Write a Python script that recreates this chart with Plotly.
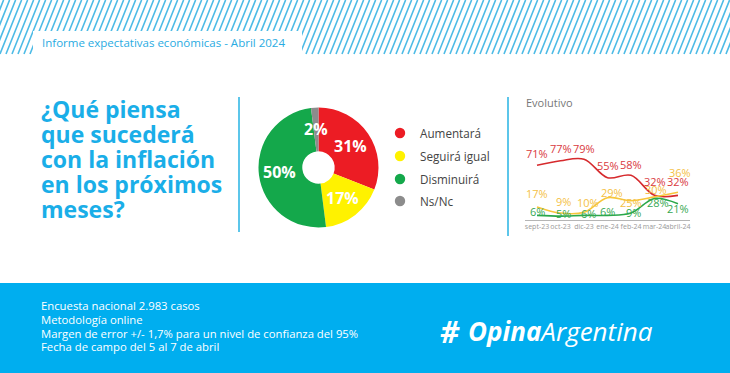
import math
import plotly.graph_objects as go

# ---------------- data ----------------
pie_labels = ["Aumentará", "Seguirá igual", "Disminuirá", "Ns/Nc"]
pie_values = [31, 17, 50, 2]
pie_colors = ["#ec1c24", "#fff200", "#14a84b", "#8c8c8c"]

months = ["sept-23", "oct-23", "dic-23", "ene-24", "feb-24", "mar-24", "abril-24"]
aumentara = [71, 77, 79, 55, 58, 32, 32]
seguira = [17, 9, 10, 29, 25, 30, 36]
disminuira = [6, 5, 6, 6, 9, 28, 21]

question_lines = ["¿Qué piensa", "que sucederá", "con la inflación", "en los próximos", "meses?"]
footer_lines = [
    "Encuesta nacional 2.983 casos",
    "Metodología online",
    "Margen de error +/- 1,7% para un nivel de confianza del 95%",
    "Fecha de campo del 5 al 7 de abril",
]
header_text = "Informe expectativas económicas - Abril 2024"

# ---------------- helpers ----------------
W, H = 730, 373


def fx(p):
    return p / W


def fy(p):
    return 1 - p / H


BLUE = "#1aaee8"
FONT = "Open Sans"

fig = go.Figure()

# ---------------- donut ----------------
cx, cy, R = 318.5, 167.5, 60
fig.add_trace(go.Pie(
    labels=pie_labels, values=pie_values, sort=False, direction="clockwise",
    rotation=0, hole=0.27, marker=dict(colors=pie_colors, line=dict(width=0)),
    textinfo="none", showlegend=False, hoverinfo="label+percent",
    domain=dict(x=[fx(cx - R), fx(cx + R)], y=[fy(cy + R), fy(cy - R)]),
))

annotations = []
total = sum(pie_values)
cum = 0
for v in pie_values:
    mid = (cum + v / 2) / total * 2 * math.pi
    cum += v
    rl = 39
    annotations.append(dict(
        x=fx(cx + rl * math.sin(mid)), y=fy(cy - rl * math.cos(mid)),
        xref="paper", yref="paper", text=f"{v}%", showarrow=False,
        font=dict(family=FONT, size=16, color="white", weight="bold"),
        xanchor="center", yanchor="middle",
    ))

# ---------------- evolution lines ----------------
series = [
    (aumentara, "#d62a2d", "#d93a3e", [12, 12, 11, 12, 11, 14, 14], [0, 0, 0, 0, 0, 0, 0]),
    (seguira, "#f7c63a", "#f4bf45", [13, 12, 10, 5, -2, 7, 20], [0, 3, 4, 4, 0, 1, 2]),
    (disminuira, "#2aa84a", "#36a852", [4, 3, 2, 4, 1, -4, -5], [0, 3, 4, 0, 2, 3, 0]),
]
for vals, lc, tc, ysh, xsh in series:
    fig.add_trace(go.Scatter(
        x=months, y=vals, mode="lines", line=dict(color=lc, width=1.6, shape="spline", smoothing=1.0),
        showlegend=False, xaxis="x", yaxis="y", hoverinfo="x+y",
    ))
    for m, v, s, xs in zip(months, vals, ysh, xsh):
        annotations.append(dict(
            x=m, y=v, xref="x", yref="y", text=f"{v}%", showarrow=False,
            yshift=s, xshift=xs, font=dict(family=FONT, size=11, color=tc),
            xanchor="center", yanchor="middle",
        ))

# ---------------- shapes ----------------
shapes = []
# header hatch
segs = []
hb = 54
for xb in range(-30, W + 10, 6):
    segs.append(f"M{fx(xb):.5f},{fy(hb):.5f} L{fx(xb + 0.4 * hb):.5f},{fy(0):.5f}")
shapes.append(dict(type="path", path=" ".join(segs), xref="paper", yref="paper",
                   line=dict(color="#4dbbe6", width=1.6)))
shapes.append(dict(type="rect", xref="paper", yref="paper", x0=fx(33), x1=fx(302), y0=fy(62), y1=fy(31),
                   fillcolor="white", line=dict(width=0)))
# separators
shapes.append(dict(type="line", xref="paper", yref="paper", x0=fx(239), x1=fx(239), y0=fy(232), y1=fy(97),
                   line=dict(color="#5cc6ea", width=2)))
shapes.append(dict(type="line", xref="paper", yref="paper", x0=fx(508), x1=fx(508), y0=fy(236), y1=fy(97),
                   line=dict(color="#5cc6ea", width=2)))
# footer band
shapes.append(dict(type="rect", xref="paper", yref="paper", x0=0, x1=1, y0=0, y1=fy(283),
                   fillcolor="#00aeef", line=dict(width=0), layer="below"))

# legend (custom circles + text)
leg_y = [133, 156, 179, 201]
for lab, col, ly in zip(pie_labels, pie_colors, leg_y):
    r = 5.2
    shapes.append(dict(type="circle", xref="paper", yref="paper", x0=fx(400 - r), x1=fx(400 + r),
                       y0=fy(ly + r), y1=fy(ly - r), fillcolor=col, line=dict(width=0)))
    annotations.append(dict(x=fx(418), y=fy(ly), xref="paper", yref="paper", text=lab, showarrow=False,
                            xanchor="left", yanchor="middle", font=dict(family=FONT, size=11.7, color="#444444")))

# ---------------- texts ----------------
annotations.append(dict(x=fx(40), y=fy(43), xref="paper", yref="paper", text=header_text, showarrow=False,
                        xanchor="left", yanchor="middle", font=dict(family=FONT, size=11.5, color="#29abe2")))
q_y = [109, 134, 159, 184, 209]
for t, yy in zip(question_lines, q_y):
    annotations.append(dict(x=fx(39), y=fy(yy), xref="paper", yref="paper", text=t, showarrow=False,
                            xanchor="left", yanchor="middle",
                            font=dict(family=FONT, size=23, color=BLUE, weight="bold")))
annotations.append(dict(x=fx(524), y=fy(103), xref="paper", yref="paper", text="Evolutivo", showarrow=False,
                        xanchor="left", yanchor="middle", font=dict(family=FONT, size=11, color="#777777")))
f_y = [305.5, 319.5, 333, 346.5]
for t, yy in zip(footer_lines, f_y):
    annotations.append(dict(x=fx(39), y=fy(yy), xref="paper", yref="paper", text=t, showarrow=False,
                            xanchor="left", yanchor="middle", font=dict(family=FONT, size=11.3, color="white")))
# logo
annotations.append(dict(x=fx(450), y=fy(331), xref="paper", yref="paper", text="<b><i>#</i></b>", showarrow=False,
                        xanchor="center", yanchor="middle", font=dict(family=FONT, size=30, color="white")))
annotations.append(dict(x=fx(466), y=fy(331), xref="paper", yref="paper",
                        text="<b><i>Opina</i></b><i>Argentina</i>", showarrow=False,
                        xanchor="left", yanchor="middle", font=dict(family=FONT, size=26, color="white")))

fig.update_layout(
    width=W, height=H, margin=dict(l=0, r=0, t=0, b=0),
    paper_bgcolor="white", plot_bgcolor="rgba(0,0,0,0)",
    xaxis=dict(domain=[fx(525.25), fx(689.75)], range=[-0.5, 6.5], type="category",
               showgrid=False, zeroline=False, showline=True, linecolor="#b5b5b5", linewidth=1,
               ticks="", tickangle=0, tickfont=dict(family=FONT, size=7, color="#9a9a9a"), fixedrange=True),
    yaxis=dict(domain=[fy(220), fy(143)], range=[0, 100], visible=False, fixedrange=True),
    shapes=shapes, annotations=annotations, showlegend=False,
)

fig.write_html("out.html", config={"displayModeBar": False},
               post_script="document.body.style.margin='0';document.body.style.padding='0';")
